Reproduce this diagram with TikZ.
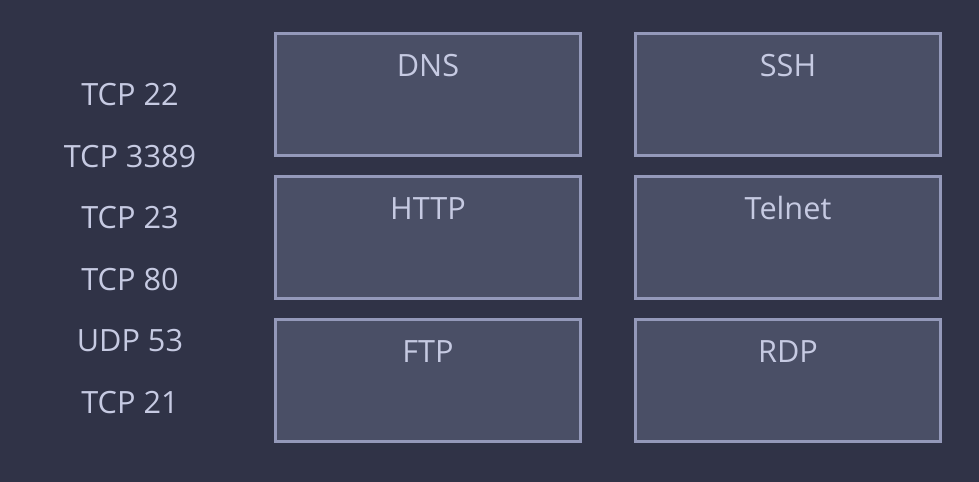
\documentclass[tikz,border=0pt]{standalone}
\usepackage{fontspec}
\setmainfont{Open Sans}
\definecolor{bgc}{HTML}{303347}
\definecolor{boxfill}{HTML}{4A4F66}
\definecolor{boxline}{HTML}{9499BA}
\definecolor{txt}{HTML}{C6CAE2}
\tikzset{
  portbox/.style={draw=boxline, fill=boxfill, line width=2.25pt},
  lbl/.style={text=txt, font=\fontsize{23}{27}\selectfont, anchor=base, inner sep=0pt},
}
\begin{document}
\begin{tikzpicture}[x=0.75pt,y=-0.75pt]
\fill[bgc] (0,0) rectangle (979,482);
\useasboundingbox (0,0) rectangle (979,482);
% left labels
\node[lbl] (p1) at (130,105.5) {TCP 22};
\node[lbl] (p2) at (130,167) {TCP 3389};
\node[lbl] (p3) at (130,228.5) {TCP 23};
\node[lbl] (p4) at (130,290) {TCP 80};
\node[lbl] (p5) at (130,351.5) {UDP 53};
\node[lbl] (p6) at (130,413) {TCP 21};
% boxes
\foreach \n/\x/\y/\t in {dns/275.5/33.5/DNS, ssh/635.5/33.5/SSH, http/275.5/176.5/HTTP, telnet/635.5/176.5/Telnet, ftp/275.5/319.5/FTP, rdp/635.5/319.5/RDP}{
  \draw[portbox] (\x,\y) rectangle ++(305,122) coordinate (\n-c);
  \node[lbl] (\n) at (\x+152.5,\y+42.5) {\t};
}
\end{tikzpicture}
\end{document}
